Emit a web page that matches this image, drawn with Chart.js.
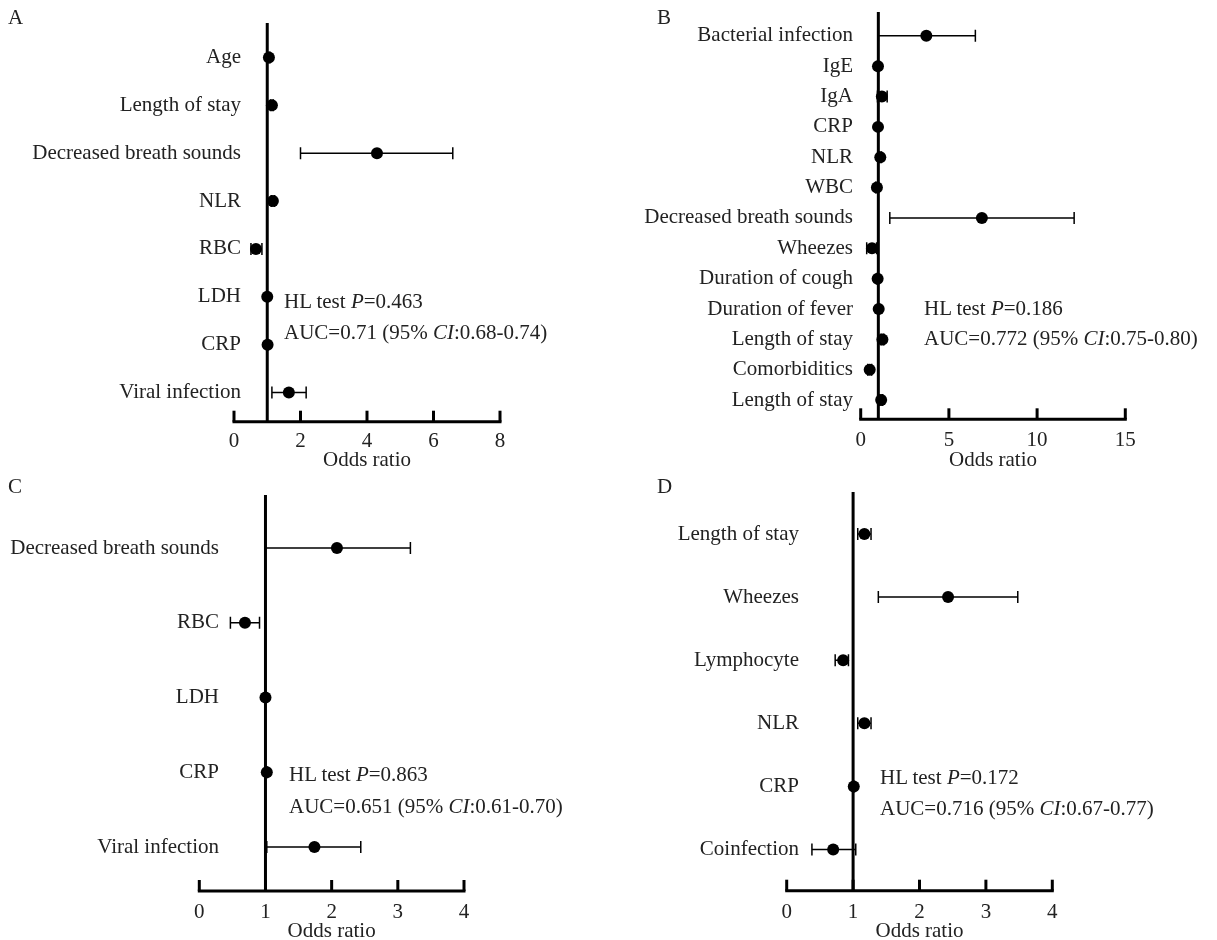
<!DOCTYPE html>
<html><head><meta charset="utf-8">
<script src="https://cdn.jsdelivr.net/npm/chart.js@4.4.1/dist/chart.umd.min.js"></script>
<style>
html,body{margin:0;padding:0;background:#fff;}
#wrap{position:relative;width:1217px;height:940px;overflow:hidden;font-family:"Liberation Serif","Times New Roman",serif;color:#222;}
canvas{position:absolute;left:0;top:0;}
.t{position:absolute;font-size:21px;line-height:24px;white-space:nowrap;}
</style></head><body>
<div id="wrap">
<canvas id="cA" width="1217" height="940"></canvas>
<canvas id="cB" width="1217" height="940"></canvas>
<canvas id="cC" width="1217" height="940"></canvas>
<canvas id="cD" width="1217" height="940"></canvas>
<div class="t" style="left:8px;top:5px">A</div>
<div class="t" style="left:657px;top:5px">B</div>
<div class="t" style="left:8px;top:474px">C</div>
<div class="t" style="left:657px;top:474px">D</div>
<div class="t" style="left:284px;top:289px">HL test <i>P</i>=0.463</div>
<div class="t" style="left:284px;top:320px">AUC=0.71 (95% <i>CI</i>:0.68-0.74)</div>
<div class="t" style="left:924px;top:296px">HL test <i>P</i>=0.186</div>
<div class="t" style="left:924px;top:326px">AUC=0.772 (95% <i>CI</i>:0.75-0.80)</div>
<div class="t" style="left:289px;top:762px">HL test <i>P</i>=0.863</div>
<div class="t" style="left:289px;top:794px">AUC=0.651 (95% <i>CI</i>:0.61-0.70)</div>
<div class="t" style="left:880px;top:765px">HL test <i>P</i>=0.172</div>
<div class="t" style="left:880px;top:796px">AUC=0.716 (95% <i>CI</i>:0.67-0.77)</div>
</div>
<script>
// ---- Data ----
const labelsA = ['Age','Length of stay','Decreased breath sounds','NLR','RBC','LDH','CRP','Viral infection'];
const orA = [1.05,1.14,4.30,1.17,0.66,1.00,1.01,1.65];
const loA = [1.02,1.10,2.00,1.12,0.51,0.99,1.00,1.14];
const hiA = [1.08,1.18,6.58,1.22,0.84,1.01,1.02,2.17];
const ticksA = [0,2,4,6,8];

const labelsB = ['Bacterial infection','IgE','IgA','CRP','NLR','WBC','Decreased breath sounds','Wheezes','Duration of cough','Duration of fever','Length of stay','Comorbiditics','Length of stay'];
const orB = [3.72,0.98,1.20,0.98,1.11,0.92,6.87,0.64,0.96,1.02,1.23,0.51,1.16];
const loB = [1.00,0.95,0.95,0.96,1.05,0.85,1.65,0.34,0.92,0.98,1.15,0.40,1.08];
const hiB = [6.50,1.01,1.50,1.00,1.17,0.99,12.10,0.90,1.00,1.06,1.31,0.62,1.24];
const ticksB = [0,5,10,15];

const labelsC = ['Decreased breath sounds','RBC','LDH','CRP','Viral infection'];
const orC = [2.08,0.69,1.00,1.02,1.74];
const loC = [1.00,0.47,0.99,1.00,1.02];
const hiC = [3.19,0.91,1.01,1.03,2.44];
const ticksC = [0,1,2,3,4];

const labelsD = ['Length of stay','Wheezes','Lymphocyte','NLR','CRP','Coinfection'];
const orD = [1.17,2.43,0.85,1.17,1.01,0.70];
const loD = [1.07,1.38,0.73,1.07,1.00,0.38];
const hiD = [1.27,3.48,0.93,1.27,1.02,1.04];
const ticksD = [0,1,2,3,4];

const refValue = 1;

// ---- Layout (page pixels) ----
const geoA = {panelLeft:0, left:234, right:500, top:23, bottom:421.7, firstY:57.5, lastY:392.5, labelRight:241, tickY:440, titleY:460};
const geoB = {panelLeft:600, left:860.7, right:1125.3, top:12, bottom:419.3, firstY:35.8, lastY:400.1, labelRight:853, tickY:438.5, titleY:460};
const geoC = {panelLeft:0, left:199.3, right:464, top:495, bottom:891, firstY:548, lastY:847, labelRight:219, tickY:910.5, titleY:931};
const geoD = {panelLeft:600, left:786.7, right:1052.3, top:492, bottom:890.7, firstY:534, lastY:849.5, labelRight:799, tickY:910.5, titleY:931};

const FONT = {family:'"Liberation Serif","Times New Roman",serif', size:21, lineHeight:1};
const TXT = '#222';

const forestPlugin = {
  id:'forest',
  beforeDatasetsDraw(chart, args, o){
    const {ctx, chartArea:ca, scales:{x,y}} = chart;
    ctx.save();
    ctx.strokeStyle = '#000';
    ctx.lineCap = 'butt';
    ctx.lineWidth = 3;
    ctx.beginPath();
    ctx.moveTo(x.getPixelForValue(o.ticks[0]) - 1.5, ca.bottom);
    ctx.lineTo(x.getPixelForValue(o.ticks[o.ticks.length-1]) + 1.5, ca.bottom);
    ctx.stroke();
    o.ticks.forEach(v => {
      const px = x.getPixelForValue(v);
      ctx.beginPath(); ctx.moveTo(px, ca.bottom); ctx.lineTo(px, ca.bottom - 11); ctx.stroke();
    });
    const rx = x.getPixelForValue(o.ref);
    ctx.beginPath(); ctx.moveTo(rx, ca.top); ctx.lineTo(rx, ca.bottom); ctx.stroke();
    ctx.lineWidth = 1.5;
    o.lo.forEach((l, i) => {
      const py = y.getPixelForValue(i);
      const x1 = x.getPixelForValue(l), x2 = x.getPixelForValue(o.hi[i]);
      ctx.beginPath();
      ctx.moveTo(x1, py); ctx.lineTo(x2, py);
      ctx.moveTo(x1, py - 6); ctx.lineTo(x1, py + 6);
      ctx.moveTo(x2, py - 6); ctx.lineTo(x2, py + 6);
      ctx.stroke();
    });
    ctx.restore();
  }
};

function makeChart(id, labels, or, lo, hi, ticks, g){
  const n = labels.length;
  const step = (g.lastY - g.firstY) / (n - 1);
  const yMin = (g.top - g.firstY) / step;
  const yMax = (g.bottom - g.firstY) / step;
  const t0 = ticks[0], t1 = ticks[ticks.length - 1];
  const ppu = (g.right - g.left) / (t1 - t0);
  // keep the plot area to the right of the category labels, symmetric so the title stays centred
  const chartLeft = Math.max(g.left, g.labelRight + 1);
  const d = chartLeft - g.left;
  const chartRight = g.right - d;
  const xMin = t0 + d / ppu, xMax = t1 - d / ppu;
  const yAxisW = chartLeft - g.panelLeft - 2;
  const titlePadB = -3;
  const xAxisH = g.titleY + 10.5 + titlePadB - g.bottom;
  const tickPad = g.tickY - g.bottom - 9;
  const zeroPad = s => { s.paddingTop = 0; s.paddingBottom = 0; s.paddingLeft = 0; s.paddingRight = 0; };
  return new Chart(document.getElementById(id), {
    type:'scatter',
    data:{datasets:[{data: or.map((v,i)=>({x:v, y:i})), pointRadius:6, pointHoverRadius:6, backgroundColor:'#000', borderColor:'#000', borderWidth:0, clip:false}]},
    options:{
      responsive:false, animation:false, devicePixelRatio:1, events:[],
      layout:{padding:{left:chartLeft - yAxisW, right:1217 - chartRight, top:g.top, bottom:940 - g.bottom - xAxisH}},
      plugins:{legend:{display:false}, tooltip:{enabled:false},
        forest:{lo:lo, hi:hi, ticks:ticks, ref:refValue}},
      scales:{
        x:{type:'linear', min:xMin, max:xMax,
          afterBuildTicks: s => { s.ticks = ticks.map(v => ({value:v})); },
          afterFit: s => { s.height = xAxisH; zeroPad(s); },
          grid:{display:false, drawTicks:false}, border:{display:false},
          ticks:{padding:tickPad, font:FONT, color:TXT, autoSkip:false, maxRotation:0},
          title:{display:true, text:'Odds ratio', font:FONT, color:TXT, padding:{top:0, bottom:titlePadB}}},
        y:{type:'linear', reverse:true, min:yMin, max:yMax,
          afterBuildTicks: s => { s.ticks = labels.map((_, i) => ({value:i})); },
          afterFit: s => { s.width = yAxisW; zeroPad(s); },
          grid:{display:false, drawTicks:false}, border:{display:false},
          ticks:{padding:chartLeft - g.labelRight, font:FONT, color:TXT, autoSkip:false,
            callback: v => labels[v]}}
      }
    },
    plugins:[forestPlugin]
  });
}

makeChart('cA', labelsA, orA, loA, hiA, ticksA, geoA);
makeChart('cB', labelsB, orB, loB, hiB, ticksB, geoB);
makeChart('cC', labelsC, orC, loC, hiC, ticksC, geoC);
makeChart('cD', labelsD, orD, loD, hiD, ticksD, geoD);
</script>
</body></html>
